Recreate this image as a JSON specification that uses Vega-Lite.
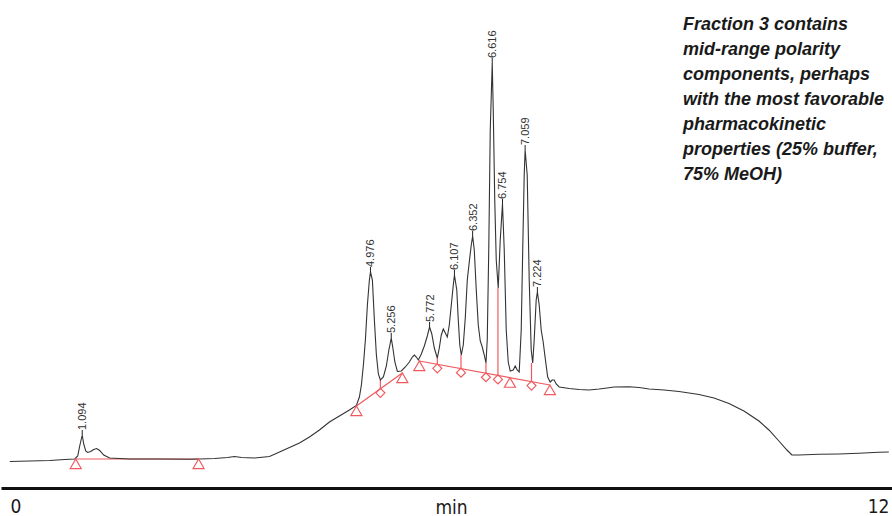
{
  "$schema": "https://vega.github.io/schema/vega-lite/v6.json",
  "width": 891,
  "height": 488,
  "autosize": {"type": "none"},
  "padding": {"left": 1, "top": 0, "right": 0, "bottom": 28},
  "background": "white",
  "config": {"view": {"stroke": null}},
  "datasets": {
    "trace": [
      {"t":0.1184,"s":26.5},{"t":0.3874,"s":27},{"t":0.6565,"s":27.5},{"t":0.8583,"s":28.5},{"t":0.9928,"s":29},{"t":1.0332,"s":32},{"t":1.0601,"s":42},{"t":1.094,"s":53},{"t":1.1139,"s":44},{"t":1.1408,"s":37},{"t":1.1677,"s":35.5},{"t":1.2081,"s":36.5},{"t":1.2484,"s":38.5},{"t":1.2888,"s":39.5},{"t":1.3291,"s":37.5},{"t":1.383,"s":33},{"t":1.4637,"s":30},{"t":1.7327,"s":29},{"t":2.1363,"s":29},{"t":2.5399,"s":28.7},{"t":2.6744,"s":29},{"t":2.8762,"s":29.5},{"t":3.0511,"s":30.5},{"t":3.1453,"s":31.5},{"t":3.2395,"s":30.5},{"t":3.4143,"s":30},{"t":3.6161,"s":31.5},{"t":3.7507,"s":36},{"t":3.8852,"s":40.5},{"t":4.0197,"s":45},{"t":4.1542,"s":51},{"t":4.2887,"s":58},{"t":4.4233,"s":66},{"t":4.5578,"s":72},{"t":4.6924,"s":78},{"t":4.7866,"s":82.5},{"t":4.8269,"s":91},{"t":4.8538,"s":103},{"t":4.8807,"s":123},{"t":4.9076,"s":148},{"t":4.9345,"s":183},{"t":4.9614,"s":208},{"t":4.976,"s":216},{"t":5.0018,"s":208},{"t":5.0287,"s":168},{"t":5.0556,"s":133},{"t":5.0825,"s":114},{"t":5.1094,"s":108},{"t":5.1498,"s":111},{"t":5.1901,"s":122},{"t":5.2238,"s":138},{"t":5.256,"s":150},{"t":5.2776,"s":140},{"t":5.3045,"s":126},{"t":5.3382,"s":116.5},{"t":5.392,"s":117},{"t":5.4457,"s":121},{"t":5.4995,"s":126},{"t":5.5399,"s":131},{"t":5.5668,"s":133},{"t":5.5937,"s":131},{"t":5.6206,"s":128},{"t":5.661,"s":134},{"t":5.7013,"s":142},{"t":5.7417,"s":152},{"t":5.772,"s":161},{"t":5.8022,"s":154},{"t":5.8359,"s":140},{"t":5.8762,"s":130},{"t":5.9031,"s":140},{"t":5.93,"s":153},{"t":5.957,"s":159},{"t":5.9839,"s":155},{"t":6.0108,"s":151},{"t":6.0377,"s":163},{"t":6.0646,"s":183},{"t":6.0915,"s":203},{"t":6.107,"s":213},{"t":6.1385,"s":198},{"t":6.1587,"s":168},{"t":6.1789,"s":143},{"t":6.1991,"s":133},{"t":6.226,"s":143},{"t":6.2529,"s":170},{"t":6.2798,"s":208},{"t":6.3067,"s":226},{"t":6.3336,"s":243},{"t":6.352,"s":252},{"t":6.374,"s":238},{"t":6.4009,"s":198},{"t":6.4278,"s":163},{"t":6.4547,"s":147},{"t":6.4816,"s":141},{"t":6.5085,"s":133},{"t":6.5314,"s":125},{"t":6.5488,"s":148},{"t":6.569,"s":238},{"t":6.5892,"s":358},{"t":6.616,"s":425},{"t":6.6296,"s":378},{"t":6.6498,"s":288},{"t":6.67,"s":228},{"t":6.6968,"s":200},{"t":6.7237,"s":248},{"t":6.754,"s":284},{"t":6.7776,"s":238},{"t":6.8045,"s":158},{"t":6.8314,"s":126},{"t":6.8583,"s":117},{"t":6.8987,"s":118},{"t":6.9256,"s":122},{"t":6.9525,"s":118},{"t":6.9794,"s":116},{"t":7.0063,"s":158},{"t":7.0265,"s":238},{"t":7.0466,"s":313},{"t":7.059,"s":338},{"t":7.087,"s":313},{"t":7.114,"s":208},{"t":7.1409,"s":138},{"t":7.1611,"s":125},{"t":7.181,"s":148},{"t":7.2079,"s":188},{"t":7.224,"s":196},{"t":7.2484,"s":183},{"t":7.2753,"s":158},{"t":7.3022,"s":146},{"t":7.3291,"s":130},{"t":7.3628,"s":111},{"t":7.3964,"s":106},{"t":7.4233,"s":108},{"t":7.4502,"s":108},{"t":7.4771,"s":104},{"t":7.5175,"s":101},{"t":7.652,"s":99.5},{"t":7.7865,"s":98.5},{"t":7.9211,"s":98},{"t":8.0556,"s":99},{"t":8.1632,"s":100},{"t":8.2574,"s":101},{"t":8.4592,"s":101.3},{"t":8.5937,"s":100.5},{"t":8.7283,"s":99},{"t":8.93,"s":98},{"t":9.1318,"s":96.5},{"t":9.4009,"s":93.5},{"t":9.6027,"s":90},{"t":9.8045,"s":84.5},{"t":10.0063,"s":77},{"t":10.2081,"s":67},{"t":10.3426,"s":58},{"t":10.4771,"s":47},{"t":10.5848,"s":38},{"t":10.652,"s":33},{"t":10.7462,"s":33},{"t":11.0152,"s":33.7},{"t":11.2843,"s":34},{"t":11.5534,"s":34.7},{"t":11.8224,"s":35.7},{"t":11.957,"s":36}
    ],
    "baselines": [
      {"seg":"A","t":1.0063,"s":29},{"seg":"A","t":2.661,"s":29},
      {"seg":"B","t":4.7866,"s":82},{"seg":"B","t":5.4054,"s":115},
      {"seg":"C","t":5.6341,"s":127},{"seg":"C","t":7.3924,"s":103}
    ],
    "drops": [
      {"t":5.1094,"s":108,"s2":99.2},
      {"t":5.8762,"s":130,"s2":123.7},
      {"t":6.1951,"s":133,"s2":119.3},
      {"t":6.5314,"s":125,"s2":114.75},
      {"t":6.6928,"s":200,"s2":112.55},
      {"t":7.1449,"s":125,"s2":106.4}
    ],
    "markers": [
      {"kind":"triangle","t":1.0063,"s":29},
      {"kind":"triangle","t":2.661,"s":29},
      {"kind":"triangle","t":4.7866,"s":82},
      {"kind":"triangle","t":5.4054,"s":115},
      {"kind":"triangle","t":5.6341,"s":127},
      {"kind":"triangle","t":6.8543,"s":110.3},
      {"kind":"triangle","t":7.3924,"s":103},
      {"kind":"diamond","t":5.1094,"s":99.2},
      {"kind":"diamond","t":5.8762,"s":123.7},
      {"kind":"diamond","t":6.1951,"s":119.3},
      {"kind":"diamond","t":6.5314,"s":114.75},
      {"kind":"diamond","t":6.6928,"s":112.55},
      {"kind":"diamond","t":7.1449,"s":106.4}
    ],
    "peaks": [
      {"t":1.094,"s":53,"label":"1.094"},
      {"t":4.976,"s":216,"label":"4.976"},
      {"t":5.256,"s":150,"label":"5.256"},
      {"t":5.772,"s":161,"label":"5.772"},
      {"t":6.107,"s":213,"label":"6.107"},
      {"t":6.352,"s":252,"label":"6.352"},
      {"t":6.616,"s":425,"label":"6.616"},
      {"t":6.754,"s":284,"label":"6.754"},
      {"t":7.059,"s":338,"label":"7.059"},
      {"t":7.224,"s":196,"label":"7.224"}
    ],
    "note": [
      {"t":9.185,"s":458,"text":"Fraction 3 contains\nmid-range polarity\ncomponents, perhaps\nwith the most favorable\npharmacokinetic\nproperties (25% buffer,\n75% MeOH)"}
    ]
  },
  "encoding": {
    "x": {
      "field": "t", "type": "quantitative",
      "scale": {"domain": [0, 12], "nice": false, "zero": false},
      "axis": {
        "values": [0, 12],
        "ticks": false,
        "grid": false,
        "domainColor": "#111111",
        "domainWidth": 3,
        "labelFlush": true,
        "labelOffset": {"condition": {"test": "datum.value == 0", "value": 9}, "value": -3},
        "labelPadding": 9,
        "labelFont": "'DejaVu Sans Condensed', 'Liberation Sans', sans-serif",
        "labelFontSize": 19,
        "labelColor": "#1a1a1a",
        "title": "min",
        "titleFont": "'DejaVu Sans Condensed', 'Liberation Sans', sans-serif",
        "titleFontSize": 19,
        "titleFontWeight": "normal",
        "titleColor": "#1a1a1a",
        "titleBaseline": "alphabetic",
        "titleY": 25,
        "titleX": 450
      }
    },
    "y": {
      "field": "s", "type": "quantitative",
      "scale": {"domain": [0, 488], "nice": false, "zero": false},
      "axis": null
    }
  },
  "layer": [
    {
      "data": {"name": "baselines"},
      "mark": {"type": "line", "color": "#f05a5f", "strokeWidth": 1.2},
      "encoding": {"detail": {"field": "seg", "type": "nominal"}}
    },
    {
      "data": {"name": "drops"},
      "mark": {"type": "rule", "color": "#f05a5f", "strokeWidth": 1.2},
      "encoding": {"y2": {"field": "s2"}}
    },
    {
      "data": {"name": "trace"},
      "mark": {"type": "line", "color": "#333333", "strokeWidth": 1.1}
    },
    {
      "data": {"name": "markers"},
      "transform": [{"filter": "datum.kind == 'triangle'"}],
      "mark": {"type": "point", "shape": "triangle-up", "filled": false, "color": "#f05a5f", "strokeWidth": 1.2, "size": 121, "yOffset": 4.8, "opacity": 1}
    },
    {
      "data": {"name": "markers"},
      "transform": [{"filter": "datum.kind == 'diamond'"}],
      "mark": {"type": "point", "shape": "diamond", "filled": false, "color": "#f05a5f", "strokeWidth": 1.2, "size": 81, "yOffset": 4, "opacity": 1}
    },
    {
      "data": {"name": "peaks"},
      "mark": {"type": "rule", "color": "#222222", "strokeWidth": 1, "y2Offset": -5},
      "encoding": {"y2": {"field": "s"}}
    },
    {
      "data": {"name": "peaks"},
      "mark": {"type": "text", "angle": 270, "align": "left", "baseline": "middle", "dx": 5, "dy": 1, "font": "Liberation Sans", "fontSize": 11, "color": "#333333"},
      "encoding": {"text": {"field": "label", "type": "nominal"}}
    },
    {
      "data": {"name": "note"},
      "mark": {"type": "text", "align": "left", "baseline": "alphabetic", "lineBreak": "\n", "lineHeight": 25, "font": "Liberation Sans", "fontSize": 18, "fontWeight": "bold", "fontStyle": "italic", "color": "#1a1a1a"},
      "encoding": {"text": {"field": "text", "type": "nominal"}}
    }
  ]
}
